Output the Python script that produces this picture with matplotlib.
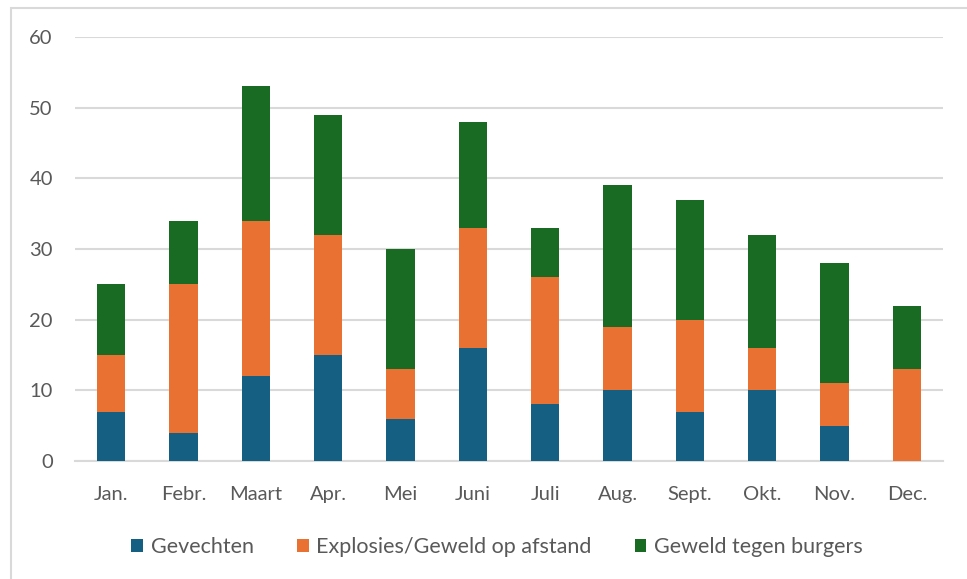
import matplotlib.pyplot as plt
from matplotlib.patches import Rectangle
import numpy as np

maanden = ['Jan.', 'Febr.', 'Maart', 'Apr.', 'Mei', 'Juni', 'Juli', 'Aug.', 'Sept.', 'Okt.', 'Nov.', 'Dec.']
gevechten = [7, 4, 12, 15, 6, 16, 8, 10, 7, 10, 5, 0]
explosies = [8, 21, 22, 17, 7, 17, 18, 9, 13, 6, 6, 13]
geweld_burgers = [10, 9, 19, 17, 17, 15, 7, 20, 17, 16, 17, 9]

series = ['Gevechten', 'Explosies/Geweld op afstand', 'Geweld tegen burgers']
kleuren = ['#156082', '#E97132', '#196B24']

plt.rcParams['font.family'] = ['Lato', 'DejaVu Sans']

fig = plt.figure(figsize=(9.67, 5.79), dpi=100)
# lichte rand rond de grafiek
fig.patches.append(Rectangle((11 / 967, -0.1), 1.2, 1 - 8 / 579 + 0.1, transform=fig.transFigure,
                             fill=False, edgecolor='#D9D9D9', linewidth=1.5))

ax = fig.add_axes([75 / 967, 1 - 461 / 579, (943 - 75) / 967, (461 - 37) / 579])

x = np.arange(len(maanden))
onder = np.zeros(len(maanden))
for naam, waarden, kleur in zip(series, [gevechten, explosies, geweld_burgers], kleuren):
    ax.bar(x, waarden, 0.39, bottom=onder, color=kleur, label=naam, zorder=3)
    onder = onder + np.array(waarden)

ax.set_xlim(-0.5, 11.5)
ax.set_ylim(0, 60)
ax.set_yticks(range(0, 61, 10))
ax.set_xticks(x)
ax.set_xticklabels(maanden)
ax.grid(axis='y', color='#D9D9D9', linewidth=1.5, zorder=0)
for s in ['top', 'right', 'left']:
    ax.spines[s].set_visible(False)
ax.spines['bottom'].set_color('#D9D9D9')
ax.spines['bottom'].set_linewidth(1.5)
ax.tick_params(axis='both', length=0, colors='#595959', labelsize=14.5)
ax.tick_params(axis='y', pad=16)
ax.tick_params(axis='x', pad=18)

fig.legend(loc='center', bbox_to_anchor=(0.514, 1 - 547 / 579), ncol=3, frameon=False,
           prop={'size': 15.5}, labelcolor='#595959',
           handlelength=0.55, handleheight=0.55, handletextpad=0.35, columnspacing=2.0)

fig.savefig('out.png', dpi=100)
